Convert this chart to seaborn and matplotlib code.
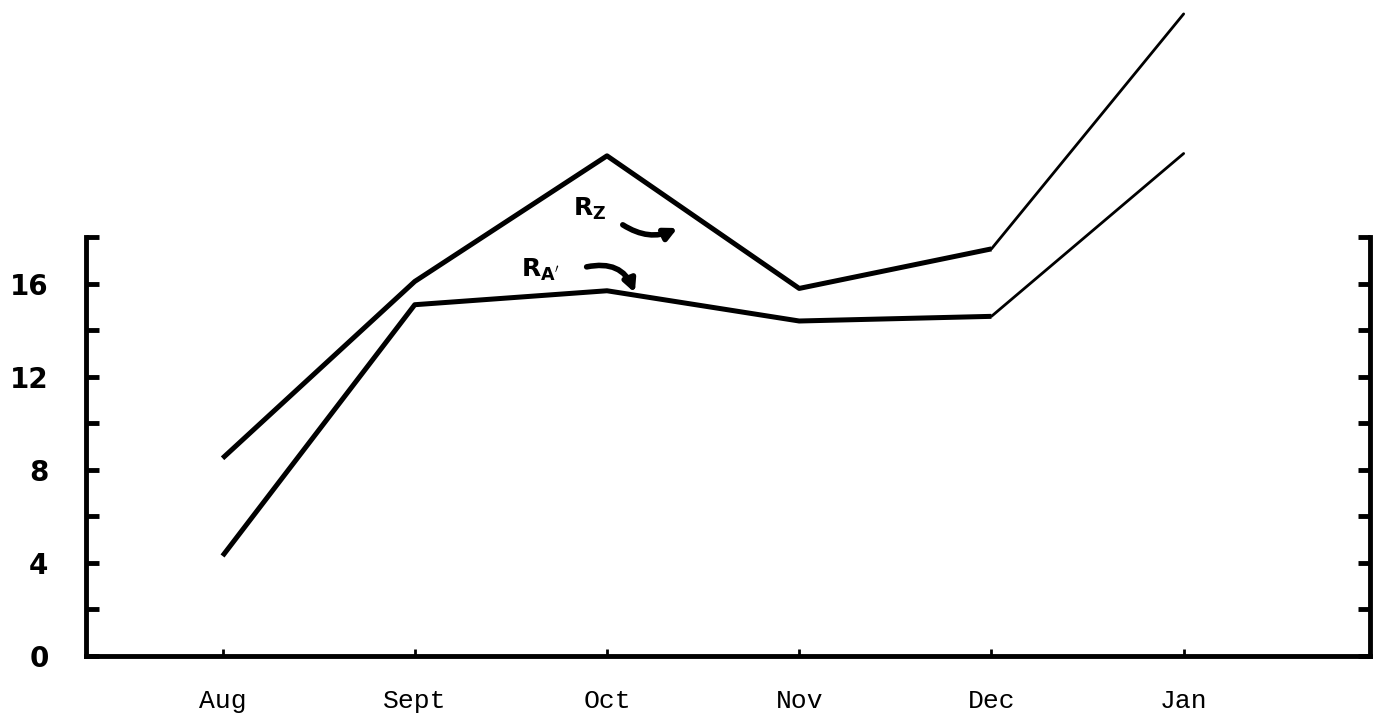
import pandas as pd
import matplotlib
matplotlib.use("Agg")
import matplotlib.pyplot as plt
import seaborn as sns

# data
months = ["Aug", "Sept", "Oct", "Nov", "Dec", "Jan"]
r_z = [8.5, 16.1, 21.5, 15.8, 17.5, 27.6]
r_a = [4.3, 15.1, 15.7, 14.4, 14.6, 21.6]
y_ticks = [0, 2, 4, 6, 8, 10, 12, 14, 16, 18]
y_labels = ["0", "", "4", "", "8", "", "12", "", "16", ""]

df = pd.DataFrame({"x": range(len(months)), "rz": r_z, "ra": r_a})

sns.set_style("ticks")
plt.rcParams["font.family"] = ["DejaVu Sans"]
plt.rcParams["axes.edgecolor"] = "black"
plt.rcParams["xtick.color"] = "black"
plt.rcParams["ytick.color"] = "black"
plt.rcParams["text.color"] = "black"

fig = plt.figure(figsize=(13.77, 7.22), dpi=100)
ax = fig.add_axes([0.0625, 0.0914, 0.9325, 0.580])

# thick part Aug..Dec, thin part Dec..Jan
for col in ["rz", "ra"]:
    sns.lineplot(data=df.iloc[:5], x="x", y=col, ax=ax, color="black",
                 linewidth=3.6, clip_on=False, solid_capstyle="butt")
    sns.lineplot(data=df.iloc[4:], x="x", y=col, ax=ax, color="black",
                 linewidth=2.0, clip_on=False, solid_capstyle="round")

ax.set_xlim(-0.71, 5.97)
ax.set_ylim(0, 18)
ax.set_xlabel("")
ax.set_ylabel("")

ax.set_yticks(y_ticks)
ax.set_yticklabels(y_labels, fontsize=20, fontweight="bold")
ax.set_xticks(range(len(months)))
ax.set_xticklabels(months, fontsize=19, family="Liberation Mono")

ax.tick_params(axis="y", direction="in", length=9, width=3.5, pad=27,
               left=True, right=True, labelright=False, colors="black")
ax.tick_params(axis="x", direction="in", length=5, width=2, pad=24, colors="black")

for s in ["left", "right", "bottom"]:
    ax.spines[s].set_linewidth(3.5)
ax.spines["top"].set_visible(False)

# curved labels
ax.text(1.91, 19.2, r"$\mathbf{R_Z}$", fontsize=18, ha="center", va="center")
ax.annotate("", xy=(2.38, 18.45), xytext=(2.07, 18.6), annotation_clip=False,
            arrowprops=dict(arrowstyle="-|>", color="black", lw=4,
                            connectionstyle="arc3,rad=0.3", mutation_scale=18,
                            clip_on=False))
ax.text(1.65, 16.6, r"$\mathbf{R_{A'}}$", fontsize=18, ha="center", va="center")
ax.annotate("", xy=(2.15, 15.5), xytext=(1.88, 16.7), annotation_clip=False,
            arrowprops=dict(arrowstyle="-|>", color="black", lw=4,
                            connectionstyle="arc3,rad=-0.45", mutation_scale=18))

fig.savefig("out.png", dpi=100)
